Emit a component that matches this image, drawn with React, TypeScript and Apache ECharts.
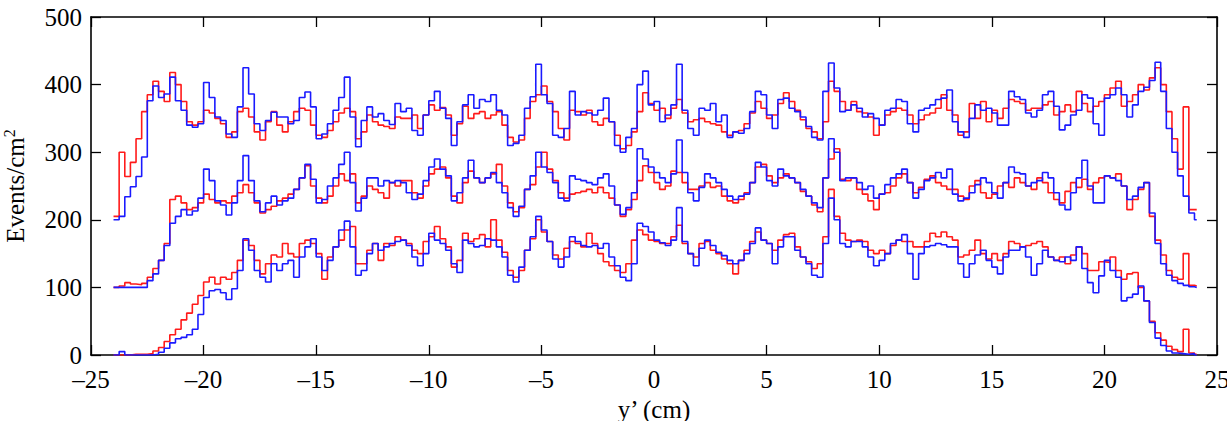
import React, { useEffect, useRef } from "react";
import * as echarts from "echarts";

// Histogram bins: left edges start at BIN_START and are BIN_WIDTH wide.
const BIN_START = -24;
const BIN_WIDTH = 0.25;
const DATA_END = 24.1;

// Each row below is one centimetre (four bins).
const topBlue = [
  200, 205, 234, 249, 264, 293, 376, 398, 381, 386, 411, 376, 362, 340, 337, 342,
  403, 381, 352, 347, 327, 322, 367, 425, 386, 342, 332, 347, 359, 352, 352, 342,
  347, 381, 389, 367, 320, 327, 342, 362, 381, 411, 352, 308, 347, 367, 352, 357,
  347, 341, 372, 360, 365, 332, 325, 355, 376, 390, 365, 350, 310, 345, 370, 385,
  365, 378, 375, 385, 362, 355, 310, 313, 325, 365, 382, 430, 385, 372, 325, 322,
  335, 390, 355, 360, 358, 355, 362, 380, 345, 310, 300, 322, 335, 400, 420, 370,
  375, 345, 355, 370, 430, 362, 335, 325, 365, 362, 372, 345, 355, 322, 330, 328,
  335, 360, 390, 385, 355, 335, 378, 380, 365, 360, 352, 338, 322, 318, 390, 432,
  395, 360, 362, 370, 365, 352, 357, 350, 340, 362, 365, 378, 375, 342, 330, 362,
  365, 370, 378, 380, 392, 345, 330, 322, 350, 370, 362, 365, 358, 340, 340, 390,
  382, 378, 358, 352, 362, 385, 390, 368, 333, 340, 355, 362, 385, 380, 342, 325,
  380, 385, 395, 385, 352, 370, 390, 396, 406, 433, 390, 335, 300, 265, 235, 210,
  200,
];

const topRed = [
  205, 300, 264, 285, 320, 360, 385, 405, 390, 375, 418, 400, 375, 345, 340, 345,
  362, 358, 350, 342, 322, 330, 360, 365, 352, 330, 318, 345, 360, 340, 330, 345,
  360, 365, 362, 340, 325, 322, 332, 345, 358, 365, 360, 320, 330, 355, 345, 340,
  338, 335, 352, 350, 350, 355, 335, 355, 370, 362, 366, 355, 325, 342, 368, 350,
  357, 360, 350, 355, 360, 340, 322, 315, 318, 350, 375, 385, 398, 375, 360, 335,
  318, 362, 360, 355, 362, 345, 340, 350, 345, 325, 305, 310, 330, 360, 388, 372,
  362, 365, 350, 365, 378, 358, 345, 348, 350, 345, 342, 340, 330, 325, 330, 332,
  342, 358, 375, 365, 350, 355, 372, 388, 375, 362, 348, 335, 330, 320, 345, 405,
  390, 375, 362, 375, 360, 358, 352, 325, 340, 355, 360, 365, 362, 355, 342, 348,
  355, 358, 365, 385, 362, 355, 325, 330, 372, 350, 375, 345, 362, 350, 365, 378,
  375, 372, 362, 365, 365, 370, 375, 355, 360, 370, 360, 390, 372, 360, 368, 375,
  385, 395, 405, 368, 375, 385, 400, 392, 410, 425, 400, 360, 320, 275, 367, 215,
  215,
];

const midBlue = [
  100, 100, 100, 100, 100, 100, 110, 120, 140, 162, 195, 205, 215, 207, 213, 232,
  275, 258, 228, 222, 207, 225, 258, 295, 258, 228, 212, 225, 235, 222, 228, 232,
  245, 262, 282, 260, 225, 230, 250, 262, 282, 300, 255, 213, 232, 262, 262, 250,
  258, 255, 258, 255, 240, 230, 238, 258, 278, 290, 275, 265, 228, 240, 262, 288,
  262, 255, 262, 270, 255, 240, 218, 205, 220, 245, 265, 300, 278, 270, 255, 232,
  228, 265, 260, 258, 255, 252, 262, 268, 250, 222, 208, 218, 240, 305, 290, 278,
  270, 262, 255, 268, 318, 270, 240, 228, 248, 268, 262, 255, 245, 235, 230, 235,
  238, 255, 285, 278, 258, 250, 275, 265, 262, 255, 245, 235, 225, 218, 262, 320,
  300, 258, 262, 262, 255, 245, 250, 232, 238, 252, 262, 268, 275, 255, 232, 245,
  258, 262, 270, 262, 275, 238, 228, 232, 240, 252, 262, 255, 240, 232, 255, 278,
  270, 268, 250, 255, 258, 270, 262, 240, 222, 215, 240, 262, 288, 250, 225, 225,
  265, 262, 258, 250, 230, 235, 248, 255, 210, 165, 135, 118, 110, 106, 103, 101,
  100,
];

const midRed = [
  100, 102, 107, 105, 104, 106, 115, 128, 140, 165, 230, 235, 225, 215, 218, 225,
  238, 230, 225, 228, 225, 235, 240, 252, 240, 225, 210, 215, 220, 228, 232, 238,
  245, 262, 280, 250, 232, 225, 235, 250, 268, 258, 268, 225, 235, 250, 245, 240,
  232, 255, 250, 258, 258, 240, 232, 250, 268, 275, 278, 262, 235, 225, 255, 272,
  262, 255, 262, 268, 282, 250, 225, 212, 218, 245, 252, 278, 300, 275, 258, 240,
  232, 238, 240, 242, 245, 240, 248, 240, 232, 222, 205, 215, 230, 258, 280, 270,
  255, 245, 250, 272, 270, 255, 245, 245, 250, 255, 248, 250, 235, 228, 225, 230,
  240, 255, 278, 282, 265, 255, 262, 268, 262, 255, 242, 235, 222, 212, 262, 290,
  305, 260, 258, 262, 245, 238, 228, 215, 238, 240, 250, 262, 268, 255, 240, 248,
  260, 265, 255, 250, 245, 245, 235, 230, 250, 258, 240, 232, 238, 250, 255, 248,
  262, 255, 250, 245, 262, 255, 240, 230, 225, 242, 255, 248, 260, 245, 255, 262,
  265, 262, 268, 250, 215, 230, 245, 255, 205, 170, 148, 125, 115, 112, 150, 103,
  102,
];

const botBlue = [
  0, 5, 0, 0, 0, 0, 0, 1, 4, 10, 18, 24, 26, 30, 38, 60,
  85, 95, 97, 92, 82, 98, 125, 172, 155, 125, 115, 108, 135, 125, 135, 140,
  115, 145, 160, 172, 145, 125, 140, 160, 185, 198, 160, 118, 125, 150, 165, 155,
  160, 165, 168, 170, 162, 145, 132, 150, 180, 170, 165, 155, 135, 122, 170, 165,
  160, 162, 172, 170, 160, 145, 118, 108, 130, 155, 175, 205, 185, 168, 142, 130,
  145, 175, 168, 162, 160, 162, 158, 165, 145, 132, 115, 110, 135, 195, 190, 182,
  170, 166, 162, 170, 218, 168, 150, 132, 158, 170, 162, 152, 147, 140, 135, 140,
  150, 165, 188, 170, 165, 135, 160, 175, 175, 155, 145, 135, 118, 115, 165, 232,
  200, 165, 160, 168, 168, 160, 145, 132, 140, 150, 165, 170, 178, 150, 112, 150,
  160, 162, 165, 163, 160, 160, 135, 115, 135, 148, 155, 140, 130, 120, 145, 155,
  155, 160, 145, 118, 135, 155, 145, 140, 138, 145, 140, 160, 128, 107, 92, 117,
  140, 125, 115, 80, 85, 90, 102, 80, 48, 25, 14, 6, 3, 2, 1, 2,
  0,
];

const botRed = [
  0, 0, 0, 1, 1, 1, 2, 6, 11, 20, 30, 38, 52, 62, 75, 88,
  108, 115, 105, 115, 112, 122, 140, 170, 162, 140, 120, 135, 148, 145, 165, 150,
  145, 165, 170, 165, 150, 112, 145, 160, 170, 185, 190, 135, 135, 155, 165, 140,
  165, 162, 175, 170, 165, 155, 150, 168, 175, 190, 172, 160, 130, 140, 180, 168,
  172, 178, 160, 200, 170, 152, 125, 115, 125, 155, 172, 200, 182, 168, 148, 142,
  158, 168, 165, 160, 180, 165, 150, 138, 132, 125, 122, 135, 170, 185, 178, 170,
  168, 165, 165, 175, 192, 165, 150, 145, 165, 168, 155, 150, 142, 135, 120, 140,
  155, 168, 182, 170, 165, 155, 170, 178, 180, 160, 145, 138, 128, 135, 175, 245,
  205, 180, 170, 168, 170, 168, 155, 150, 155, 150, 162, 170, 168, 168, 160, 160,
  168, 180, 175, 182, 175, 170, 145, 148, 155, 170, 150, 142, 150, 140, 150, 168,
  165, 160, 162, 165, 168, 160, 145, 140, 145, 135, 148, 160, 150, 125, 125, 138,
  137, 145, 125, 112, 120, 122, 100, 80, 50, 33, 22, 13, 8, 5, 38, 3,
  1,
];

const xTicks = { min: -25, max: 25, interval: 5 };
const yTicks = { min: 0, max: 500, interval: 100 };

const RED = "#ff1a1a";
const BLUE = "#1a1aff";
const FONT = "'Liberation Serif', 'Times New Roman', serif";

// Turn bin contents into step-line points; the closing point ends the last bin.
function toSteps(values: number[]): [number, number][] {
  const pts: [number, number][] = values.map((v, i) => [BIN_START + i * BIN_WIDTH, v]);
  pts.push([DATA_END, values[values.length - 1]]);
  return pts;
}

function stepSeries(name: string, values: number[], color: string) {
  return {
    name,
    type: "line",
    step: "end",
    data: toSteps(values),
    symbol: "none",
    silent: true,
    lineStyle: { color, width: 1.6 },
    itemStyle: { color },
    z: color === BLUE ? 3 : 2,
  };
}

const dash = (v: number) => (v < 0 ? "\u2013" + Math.abs(v) : String(v));

export default function App() {
  const ref = useRef<HTMLDivElement>(null);

  useEffect(() => {
    document.body.style.margin = "0";
    if (!ref.current) return;
    const chart = echarts.init(ref.current, null, { renderer: "svg" });

    const axisLine = { show: true, onZero: false, lineStyle: { color: "#000", width: 1.6 } };
    const axisTick = { show: true, inside: true, length: 10, lineStyle: { color: "#000", width: 1.3 } };
    const labelStyle = { color: "#000", fontFamily: FONT, fontSize: 25 };

    chart.setOption({
      animation: false,
      backgroundColor: "#fff",
      grid: { left: 91, right: 10, top: 17, bottom: 66, containLabel: false, outerBoundsMode: "none" },
      xAxis: [
        {
          type: "value",
          position: "bottom",
          ...xTicks,
          axisLine,
          axisTick,
          splitLine: { show: false },
          axisLabel: { ...labelStyle, margin: 12, formatter: dash },
          name: "y\u2019 (cm)",
          nameLocation: "middle",
          nameGap: 40,
          nameTextStyle: { ...labelStyle },
        },
        {
          type: "value",
          position: "top",
          ...xTicks,
          axisLine,
          axisTick,
          splitLine: { show: false },
          axisLabel: { show: false },
        },
      ],
      yAxis: [
        {
          type: "value",
          position: "left",
          ...yTicks,
          axisLine,
          axisTick,
          splitLine: { show: false },
          axisLabel: { ...labelStyle, margin: 9 },
          name: "Events/cm{sup|2}",
          nameLocation: "middle",
          nameGap: 62,
          nameRotate: 90,
          nameTextStyle: {
            ...labelStyle,
            rich: {
              sup: { fontFamily: FONT, fontSize: 16, color: "#000", verticalAlign: "top", padding: [0, 0, 12, 0] },
            },
          },
        },
        {
          type: "value",
          position: "right",
          ...yTicks,
          axisLine,
          axisTick,
          splitLine: { show: false },
          axisLabel: { show: false },
        },
      ],
      series: [
        stepSeries("top (red)", topRed, RED),
        stepSeries("middle (red)", midRed, RED),
        stepSeries("bottom (red)", botRed, RED),
        stepSeries("top (blue)", topBlue, BLUE),
        stepSeries("middle (blue)", midBlue, BLUE),
        stepSeries("bottom (blue)", botBlue, BLUE),
      ],
    });

    return () => chart.dispose();
  }, []);

  return <div ref={ref} style={{ width: 1227, height: 421 }} />;
}
